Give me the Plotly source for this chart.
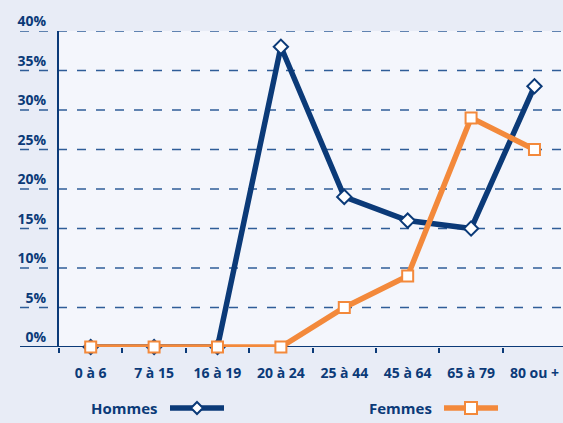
import plotly.graph_objects as go

# age groups and share of each group (%)
categories = ["0 à 6", "7 à 15", "16 à 19", "20 à 24", "25 à 44", "45 à 64", "65 à 79", "80 ou +"]
hommes = [0, 0, 0, 38, 19, 16, 15, 33]
femmes = [0, 0, 0, 0, 5, 9, 29, 25]
y_ticks = [0, 5, 10, 15, 20, 25, 30, 35, 40]
y_labels = ["0%", "5%", "10%", "15%", "20%", "25%", "30%", "35%", "40%"]

NAVY = "#0b3a78"
ORANGE = "#f3893b"
GRID = "#2f5d98"
FONT = "Open Sans"

W, H = 563, 423
L, T, B = 59, 31, 76
PW, PH = W - L, H - T - B


def px_x(p):
    return (p - L) / PW


def px_y(p):
    return (H - B - p) / PH


fig = go.Figure()

fig.add_trace(go.Scatter(
    x=categories, y=hommes, name="Hommes", mode="lines+markers",
    line=dict(color=NAVY, width=5.5),
    marker=dict(symbol="diamond", size=11, color="white", line=dict(color=NAVY, width=2)),
    cliponaxis=False, showlegend=False,
))
fig.add_trace(go.Scatter(
    x=categories, y=femmes, name="Femmes", mode="lines+markers",
    line=dict(color=ORANGE, width=5.5),
    marker=dict(symbol="square", size=11, color="white", line=dict(color=ORANGE, width=2)),
    cliponaxis=False, showlegend=False,
))

# dashed gridlines running out to the left, past the y axis
shapes = []
for v in y_ticks[1:]:
    shapes.append(dict(
        type="line", xref="paper", yref="y", x0=px_x(20), x1=1, y0=v, y1=v,
        line=dict(color=GRID, width=1.5, dash="9px,10px"), layer="below",
    ))
# baseline
shapes.append(dict(
    type="line", xref="paper", yref="y", x0=px_x(20), x1=1, y0=0, y1=0,
    line=dict(color=NAVY, width=2), layer="below",
))

# hand-made legend, text before the sample like the original
leg_y = px_y(408)
for x0, x1, col, sym in [(170, 224, NAVY, "diamond"), (444, 498, ORANGE, "square")]:
    shapes.append(dict(type="line", xref="paper", yref="paper",
                       x0=px_x(x0), x1=px_x(x1), y0=leg_y, y1=leg_y,
                       line=dict(color=col, width=5.5)))
    mid = px_x((x0 + x1) / 2)
    if sym == "diamond":
        path = "M0,6 L6,0 L0,-6 L-6,0 Z"
    else:
        path = "M-6,-6 L6,-6 L6,6 L-6,6 Z"
    shapes.append(dict(type="path", xref="paper", yref="paper",
                       xsizemode="pixel", ysizemode="pixel",
                       xanchor=mid, yanchor=leg_y, path=path,
                       fillcolor="white", line=dict(color=col, width=2)))

bold = dict(family=FONT, size=15, color=NAVY, weight="bold")
annotations = [
    dict(text="Hommes", xref="paper", yref="paper", x=px_x(89), y=leg_y,
         xanchor="left", yanchor="middle", showarrow=False, font=bold),
    dict(text="Femmes", xref="paper", yref="paper", x=px_x(367), y=leg_y,
         xanchor="left", yanchor="middle", showarrow=False, font=bold),
]

fig.update_layout(
    width=W, height=H, autosize=False,
    margin=dict(l=L, r=0, t=T, b=B),
    paper_bgcolor="#e8ecf6",
    plot_bgcolor="#f4f6fc",
    shapes=shapes,
    annotations=annotations,
    font=dict(family=FONT, color=NAVY),
    xaxis=dict(
        type="category", range=[-0.5, 7.45], showgrid=False, zeroline=False,
        showline=False, ticks="outside", tickson="boundaries", ticklen=5,
        tickwidth=2, tickcolor=NAVY, ticklabelstandoff=16,
        tickfont=dict(family=FONT, size=14, color=NAVY, weight="bold"),
    ),
    yaxis=dict(
        range=[0, 40], tickvals=y_ticks, ticktext=y_labels, showgrid=False,
        zeroline=False, showline=True, linecolor=NAVY, linewidth=2,
        ticks="", ticklabelposition="outside top", ticklabelstandoff=8,
        tickfont=dict(family=FONT, size=14, color=NAVY, weight="bold"),
    ),
)

fig.write_html("out.html", config={"displayModeBar": False},
               post_script="document.body.style.margin='0';")
